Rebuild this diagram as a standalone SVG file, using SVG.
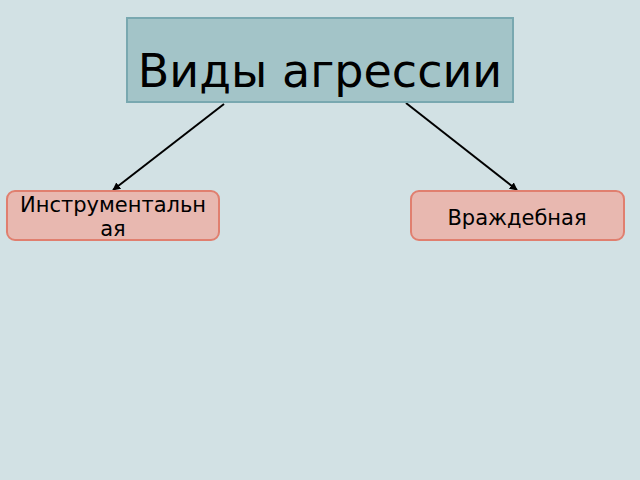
<svg xmlns="http://www.w3.org/2000/svg" width="640" height="480" viewBox="0 0 640 480">
<style>
.bg{fill:#d2e1e4}
.top{fill:#a3c4c8;stroke:#79a8b0;stroke-width:2}
.sub{fill:#e8b8b0;stroke:#e07f6f;stroke-width:2}
.t{font-family:"DejaVu Sans",sans-serif;fill:#000;text-anchor:middle}
.s{font-size:21px}
.c{stroke:#000;stroke-width:2;fill:none}
</style>
<defs>
<marker id="ah" viewBox="0 0 10 10" refX="9" refY="5" markerWidth="4" markerHeight="4" orient="auto" markerUnits="strokeWidth">
<path d="M0,0 L10,5 L0,10 z" fill="#000"/>
</marker>
</defs>
<rect class="bg" x="0" y="0" width="640" height="480"/>
<g id="connectors">
<line class="c" x1="224" y1="104" x2="113" y2="190" marker-end="url(#ah)"/>
<line class="c" x1="406" y1="103" x2="517" y2="190" marker-end="url(#ah)"/>
</g>
<g id="root">
<rect class="top" x="127" y="18" width="386" height="84"/>
<text class="t" x="320" y="87" font-size="46">Виды агрессии</text>
</g>
<g id="instr">
<rect class="sub" x="7" y="191" width="212" height="49" rx="8"/>
<text class="t s" x="113" y="212">Инструментальн</text>
<text class="t s" x="113" y="236">ая</text>
</g>
<g id="vrazh">
<rect class="sub" x="411" y="191" width="213" height="49" rx="8"/>
<text class="t s" x="517" y="225">Враждебная</text>
</g>
</svg>
